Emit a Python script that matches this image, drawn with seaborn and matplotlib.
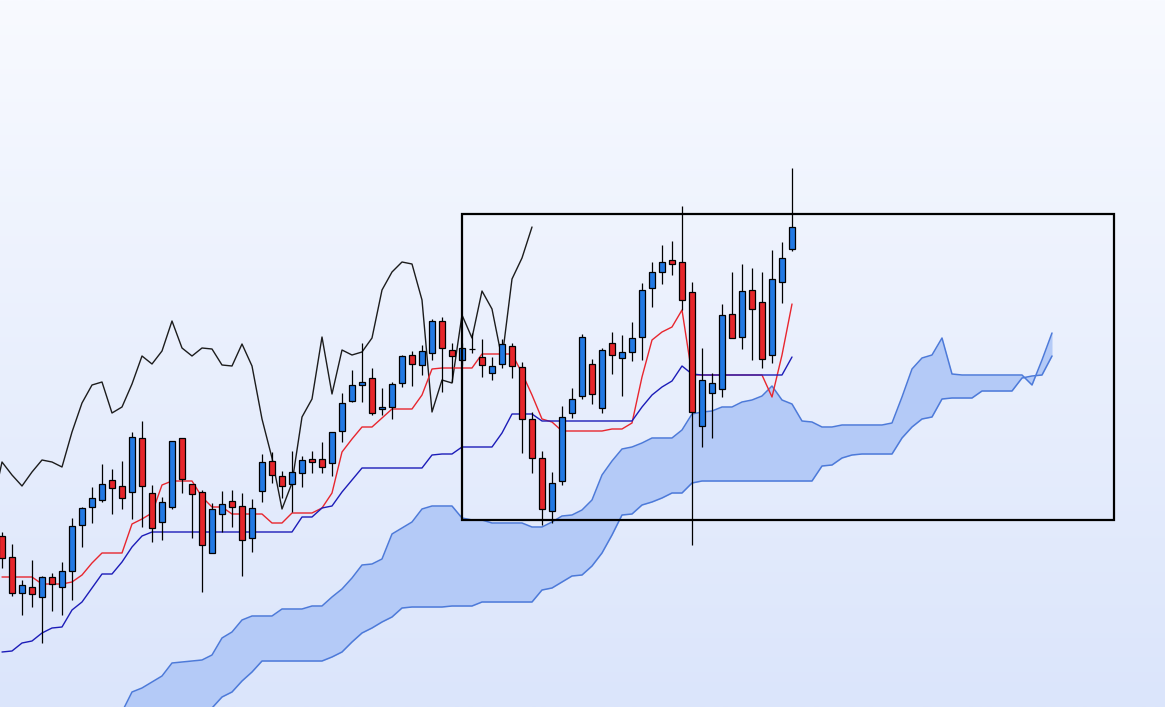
import matplotlib

matplotlib.use("Agg")
import matplotlib.pyplot as plt
import numpy as np
import pandas as pd
import seaborn as sns
from matplotlib.colors import LinearSegmentedColormap
from matplotlib.patches import Rectangle

# daily candles (80 sessions)
OPEN = [964, 943, 907, 913, 903, 923, 913, 929, 975, 993,
        1000, 1020, 1014, 1008, 1062, 1007, 978, 993, 1062, 1016,
        1008, 947, 986, 999, 994, 962, 1009, 1039, 1024, 1016,
        1027, 1041, 1041, 1037, 1069, 1099, 1115, 1122, 1091, 1093,
        1117, 1145, 1135, 1147, 1179, 1150, 1140, 1151, 1143, 1127,
        1136, 1154, 1133, 1081, 1042, 989, 1019, 1087, 1104, 1136,
        1092, 1157, 1142, 1148, 1163, 1212, 1228, 1240, 1238, 1208,
        1074, 1107, 1111, 1186, 1163, 1210, 1198, 1145, 1218, 1251]
CLOSE = [942, 907, 915, 906, 923, 916, 929, 974, 992, 1002,
         1016, 1012, 1002, 1063, 1014, 972, 998, 1059, 1021, 1006,
         955, 991, 996, 993, 960, 992, 1038, 1025, 1014, 1028,
         1040, 1038, 1033, 1068, 1097, 1115, 1118, 1087, 1093, 1116,
         1144, 1136, 1149, 1179, 1152, 1144, 1152, 1151, 1135, 1134,
         1156, 1134, 1081, 1042, 991, 1017, 1083, 1101, 1163, 1106,
         1150, 1145, 1148, 1162, 1210, 1228, 1238, 1236, 1200, 1088,
         1120, 1117, 1185, 1162, 1209, 1191, 1141, 1221, 1242, 1273]
HIGH = [968, 956, 920, 940, 924, 927, 938, 982, 993, 1013,
        1036, 1031, 1039, 1068, 1079, 1015, 1003, 1059, 1062, 1016,
        1010, 997, 1009, 1010, 1007, 1001, 1046, 1048, 1029, 1049,
        1044, 1049, 1058, 1068, 1107, 1130, 1157, 1132, 1112, 1118,
        1145, 1149, 1155, 1181, 1183, 1157, 1157, 1167, 1161, 1143,
        1161, 1157, 1138, 1088, 1049, 1028, 1094, 1112, 1166, 1141,
        1152, 1168, 1165, 1178, 1217, 1238, 1255, 1259, 1294, 1218,
        1152, 1127, 1196, 1228, 1236, 1232, 1228, 1250, 1258, 1332]
LOW = [932, 904, 885, 893, 857, 889, 885, 900, 953, 977,
       998, 986, 991, 981, 973, 958, 960, 991, 1007, 962,
       908, 947, 968, 973, 924, 948, 998, 1017, 1002, 988,
       1013, 1027, 1027, 1024, 1058, 1098, 1098, 1085, 1085, 1081,
       1113, 1114, 1125, 1140, 1108, 1118, 1135, 1147, 1123, 1120,
       1132, 1122, 1047, 1027, 975, 977, 1015, 1082, 1101, 1096,
       1087, 1126, 1104, 1139, 1140, 1193, 1216, 1225, 1190, 955,
       1053, 1062, 1103, 1162, 1151, 1140, 1132, 1137, 1197, 1249]

# ichimoku lines
TENKAN = ([923] * 4 + [916] * 3 + [918, 925, 937] + [947] * 3 + [976, 981, 987, 1015]
          + [1019] * 3 + [1003] + [993] * 2 + [986] * 4 + [977] * 2 + [987] * 3
          + [992, 1007, 1048, 1061] + [1073] * 2 + [1082] + [1091] * 3 + [1105, 1131]
          + [1132] * 4 + [1146] * 4 + [1127, 1105, 1081, 1078] + [1069] * 5 + [1071] * 2
          + [1077, 1123, 1160, 1168, 1173, 1190] + [1125] * 8 + [1103, 1145, 1196])
KIJUN = ([848, 849, 857, 859, 867, 872, 873, 890, 898, 912] + [926] * 2 + [938, 953, 964]
         + [968] * 15 + [983] * 2 + [992, 994, 1008, 1020] + [1032] * 7 + [1045]
         + [1046] * 2 + [1053] * 4 + [1067] + [1086] * 3 + [1079] * 10
         + [1093, 1105, 1113, 1119, 1134, 1126] + [1125] * 9 + [1143])
CHIKOU_LAG = 26

# cloud, plotted from session 12 to session 105 (26 ahead of the last candle)
CLOUD_START = 12
SPAN_A = ([788, 808, 812, 818, 824, 837, 838, 839, 840, 845, 862, 868, 880] + [884] * 3
          + [891] * 3 + [894] * 2 + [903, 911, 922, 935, 936, 941, 966, 972, 978, 991]
          + [994] * 3 + [982] + [980] * 2 + [977] * 4 + [973] * 2
          + [978, 984, 985, 990, 1000, 1025, 1039, 1051, 1053, 1057] + [1062] * 3
          + [1070, 1086, 1088, 1089] + [1093] * 2 + [1098, 1100, 1104, 1114, 1100, 1096, 1079, 1078]
          + [1073] * 2 + [1075] * 5 + [1077, 1103, 1131, 1142, 1145, 1162, 1126]
          + [1125] * 7 + [1115, 1140, 1167])
SPAN_B = ([735, 742, 748, 754, 760, 766, 772, 778, 784, 792, 803, 808, 819, 828] + [839] * 7
          + [843, 848, 858, 867, 872, 878, 883, 892] + [893] * 4 + [894] * 3 + [898] * 6
          + [910, 912, 918, 924, 925, 934, 947, 965, 985, 986, 995, 998, 1002] + [1007] * 2
          + [1017] + [1019] * 12 + [1034, 1035, 1042, 1045] + [1046] * 4
          + [1062, 1073, 1081, 1083, 1101] + [1102] * 3 + [1109] * 4 + [1122, 1124, 1125, 1144])

# highlighted zone
BOX_LEFT, BOX_RIGHT = 46, 111.2
BOX_BOTTOM, BOX_TOP = 980, 1286

UP_COLOR = "#2279e3"
DOWN_COLOR = "#e6262b"


def main() -> None:
    candles = pd.DataFrame({"open": OPEN, "high": HIGH, "low": LOW, "close": CLOSE})
    candles["idx"] = np.arange(len(candles))
    lines = pd.DataFrame({"idx": candles["idx"], "tenkan": TENKAN, "kijun": KIJUN})
    chikou = pd.DataFrame({"idx": candles["idx"] - CHIKOU_LAG, "price": candles["close"]})
    cloud = pd.DataFrame({"idx": np.arange(CLOUD_START, CLOUD_START + len(SPAN_A)),
                          "a": SPAN_A, "b": SPAN_B})

    sns.set_theme(style="white")
    fig = plt.figure(figsize=(11.65, 7.07), dpi=100)
    ax = fig.add_axes([0, 0, 1, 1])
    xlim = (-0.2, 116.3)
    ylim = (793, 1500)

    grad = LinearSegmentedColormap.from_list("bg", ["#dbe5fb", "#f8faff"])
    ax.imshow(np.linspace(0, 1, 256).reshape(-1, 1), cmap=grad, origin="lower",
              extent=[xlim[0], xlim[1], ylim[0], ylim[1]], aspect="auto", zorder=0)

    ax.fill_between(cloud["idx"], cloud["a"], cloud["b"], color="#b4caf7", lw=0, zorder=1)
    sns.lineplot(data=cloud, x="idx", y="a", color="#4d7ad9", lw=1.1, ax=ax, zorder=2)
    sns.lineplot(data=cloud, x="idx", y="b", color="#4d7ad9", lw=1.1, ax=ax, zorder=2)

    sns.lineplot(data=chikou, x="idx", y="price", color="#1c1c1c", lw=1.0, ax=ax, zorder=3)
    sns.lineplot(data=lines, x="idx", y="tenkan", color="#e8262e", lw=1.0, ax=ax, zorder=3)
    sns.lineplot(data=lines, x="idx", y="kijun", color="#1c1cb8", lw=1.0, ax=ax, zorder=3)

    up = candles["close"] >= candles["open"]
    ax.vlines(candles["idx"], candles["low"], candles["high"], color="black", lw=0.9, zorder=4)
    ax.bar(candles["idx"], candles["close"] - candles["open"], bottom=candles["open"],
           width=0.62, color=np.where(up, UP_COLOR, DOWN_COLOR),
           edgecolor="black", linewidth=0.9, zorder=5)

    ax.add_patch(Rectangle((BOX_LEFT, BOX_BOTTOM), BOX_RIGHT - BOX_LEFT, BOX_TOP - BOX_BOTTOM,
                           fill=False, edgecolor="black", lw=1.6, zorder=6))

    ax.set_xlim(*xlim)
    ax.set_ylim(*ylim)
    ax.set_axis_off()
    fig.savefig("out.png", dpi=100)
    plt.close(fig)


if __name__ == "__main__":
    main()
